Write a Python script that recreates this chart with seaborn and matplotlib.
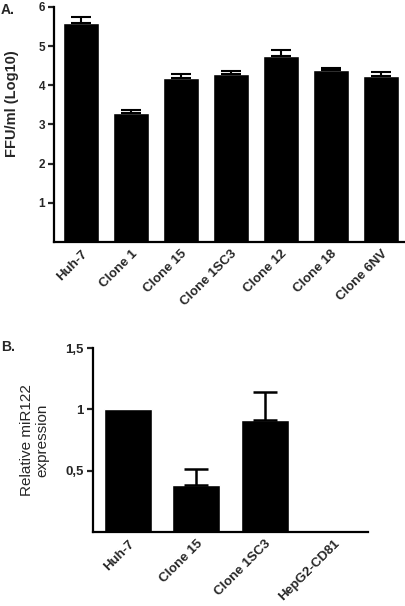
import matplotlib
matplotlib.use("Agg")
import matplotlib.pyplot as plt
import pandas as pd
import seaborn as sns

sns.set_style("ticks")
plt.rcParams["font.family"] = ["Liberation Sans", "DejaVu Sans"]

# panel A
ffu_labels = ["Huh-7", "Clone 1", "Clone 15", "Clone 1SC3", "Clone 12", "Clone 18", "Clone 6NV"]
ffu_values = [5.58, 3.28, 4.18, 4.28, 4.75, 4.38, 4.23]
ffu_err = [0.15, 0.08, 0.11, 0.08, 0.15, 0.05, 0.10]

# panel B
mir_labels = ["Huh-7", "Clone 15", "Clone 1SC3", "HepG2-CD81"]
mir_values = [1.0, 0.385, 0.91, 0.004]
mir_err = [0.0, 0.13, 0.23, 0.0]

df_a = pd.DataFrame({"cell": ffu_labels, "val": ffu_values})
df_b = pd.DataFrame({"cell": mir_labels, "val": mir_values})

fig = plt.figure(figsize=(4.06, 6.06), dpi=100)
ax1 = fig.add_axes([0.133, 0.6007, 0.867, 0.388])
ax2 = fig.add_axes([0.229, 0.122, 0.677, 0.3036])


def style(ax, lw, ysize, xsize):
    sns.despine(ax=ax)
    for s in ["left", "bottom"]:
        ax.spines[s].set_linewidth(lw)
        ax.spines[s].set_color("black")
    ax.tick_params(axis="y", length=4.5, width=lw, direction="out", pad=2)
    ax.tick_params(axis="x", length=0, pad=4)
    for t in ax.get_yticklabels():
        t.set_fontweight("bold")
        t.set_fontsize(ysize)
    for t in ax.get_xticklabels():
        t.set_fontweight("bold")
        t.set_fontsize(xsize)
        t.set_rotation(45)
        t.set_ha("right")
        t.set_rotation_mode("anchor")


sns.barplot(data=df_a, x="cell", y="val", color="black", width=0.72,
            saturation=1, errorbar=None, ax=ax1)
ax1.errorbar(range(len(ffu_values)), ffu_values, yerr=[[0] * len(ffu_err), ffu_err],
             fmt="none", ecolor="black", elinewidth=1.5, capsize=7, capthick=1.5)
ax1.set_xlim(-0.54, 6.5)
ax1.set_ylim(0, 6)
ax1.set_yticks([1, 2, 3, 4, 5, 6])
ax1.set_xlabel("")
ax1.set_ylabel("FFU/ml (Log10)", fontsize=10.5, fontweight="bold")
ax1.yaxis.set_label_coords(-0.1, 0.59)
style(ax1, 1.6, 8.5, 9.5)

sns.barplot(data=df_b, x="cell", y="val", color="black", width=0.70,
            saturation=1, errorbar=None, ax=ax2)
ax2.errorbar([1, 2], mir_values[1:3], yerr=[[0, 0], mir_err[1:3]],
             fmt="none", ecolor="black", elinewidth=1.8, capsize=8.5, capthick=1.8)
ax2.set_xlim(-0.51, 3.5)
ax2.set_ylim(0, 1.5)
ax2.set_yticks([0.5, 1, 1.5])
ax2.set_yticklabels(["0,5", "1", "1,5"])
ax2.set_xlabel("")
ax2.set_ylabel("Relative miR122\nexpression", fontsize=11, linespacing=1.1)
ax2.yaxis.set_label_coords(-0.16, 0.5)
style(ax2, 1.6, 9.5, 9.5)

fig.text(0.002, 0.983, "A.", fontsize=10, fontweight="bold", va="center")
fig.text(0.002, 0.427, "B.", fontsize=10, fontweight="bold", va="center")

fig.savefig("out.png", dpi=100)
